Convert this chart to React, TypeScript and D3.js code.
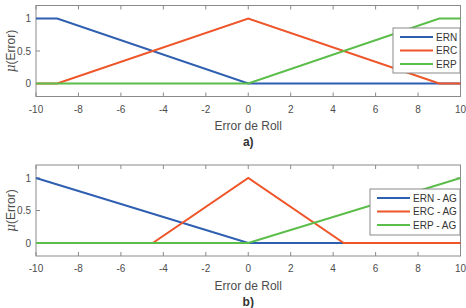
import * as d3 from 'd3';
import { useEffect, useRef } from 'react';

const xTicks = [-10, -8, -6, -4, -2, 0, 2, 4, 6, 8, 10];
const yTicks = [0, 0.5, 1];
const yTickLabels = ['0', '0.5', '1'];

// panel a) membership functions
const ernA: [number, number][] = [[-10, 1], [-9, 1], [0, 0], [10, 0]];
const ercA: [number, number][] = [[-10, 0], [-9, 0], [0, 1], [9, 0], [10, 0]];
const erpA: [number, number][] = [[-10, 0], [0, 0], [9, 1], [10, 1]];
const namesA = ['ERN', 'ERC', 'ERP'];

// panel b) tuned by AG
const ernB: [number, number][] = [[-10, 1], [0, 0], [10, 0]];
const ercB: [number, number][] = [[-10, 0], [-4.5, 0], [0, 1], [4.5, 0], [10, 0]];
const erpB: [number, number][] = [[-10, 0], [0, 0], [10, 1]];
const namesB = ['ERN - AG', 'ERC - AG', 'ERP - AG'];

const colors = ['#2f5fb0', '#ee5529', '#5bbd4a'];

export default function App() {
  const ref = useRef<SVGSVGElement>(null);

  useEffect(() => {
    const svg = d3.select(ref.current);
    svg.selectAll('*').remove();
    const font = 'Liberation Sans, Arial, sans-serif';

    const panels = [
      { top: 5.5, bottom: 96.5, series: [ernA, ercA, erpA], names: namesA, tag: 'a)', legend: { x: 393, y: 28, w: 67, h: 45, lx: 7, lw: 33 } },
      { top: 165, bottom: 256, series: [ernB, ercB, erpB], names: namesB, tag: 'b)', legend: { x: 370, y: 189, w: 90, h: 46, lx: 7, lw: 33 } },
    ];

    panels.forEach((p) => {
      const x = d3.scaleLinear().domain([-10, 10]).range([36, 460.5]);
      const y = d3.scaleLinear().domain([-0.2, 1.2]).range([p.bottom, p.top]);
      const g = svg.append('g');

      g.append('rect')
        .attr('x', 36).attr('y', p.top)
        .attr('width', 424.5).attr('height', p.bottom - p.top)
        .attr('fill', 'white').attr('stroke', '#8a8a8a').attr('stroke-width', 1);

      // ticks inside, on all sides
      xTicks.forEach((t) => {
        g.append('line').attr('x1', x(t)).attr('x2', x(t)).attr('y1', p.bottom).attr('y2', p.bottom - 4).attr('stroke', '#8a8a8a');
        g.append('line').attr('x1', x(t)).attr('x2', x(t)).attr('y1', p.top).attr('y2', p.top + 4).attr('stroke', '#8a8a8a');
        g.append('text').attr('x', x(t)).attr('y', p.bottom + 16)
          .attr('text-anchor', 'middle').attr('font-size', 10).attr('font-family', font).attr('fill', '#4d4d4d')
          .text(t);
      });
      yTicks.forEach((t, i) => {
        g.append('line').attr('x1', 36).attr('x2', 40).attr('y1', y(t)).attr('y2', y(t)).attr('stroke', '#8a8a8a');
        g.append('line').attr('x1', 460.5).attr('x2', 456.5).attr('y1', y(t)).attr('y2', y(t)).attr('stroke', '#8a8a8a');
        g.append('text').attr('x', 31).attr('y', y(t) + 3.5)
          .attr('text-anchor', 'end').attr('font-size', 10).attr('font-family', font).attr('fill', '#4d4d4d')
          .text(yTickLabels[i]);
      });

      const line = d3.line<[number, number]>().x((d) => x(d[0])).y((d) => y(d[1]));
      p.series.forEach((s, i) => {
        g.append('path').attr('d', line(s)).attr('fill', 'none')
          .attr('stroke', colors[i]).attr('stroke-width', 2);
      });

      // axis labels
      g.append('text').attr('x', x(0)).attr('y', p.bottom + 33.5)
        .attr('text-anchor', 'middle').attr('font-size', 12).attr('font-family', font).attr('fill', '#4d4d4d')
        .text('Error de Roll');
      g.append('text').attr('x', x(0)).attr('y', p.bottom + 49.5)
        .attr('text-anchor', 'middle').attr('font-size', 12).attr('font-weight', 'bold').attr('font-family', font).attr('fill', '#333')
        .text(p.tag);
      const yl = g.append('text')
        .attr('transform', `translate(15,${(y(0) + y(1)) / 2}) rotate(-90)`)
        .attr('text-anchor', 'middle').attr('font-size', 12).attr('font-family', font).attr('fill', '#4d4d4d');
      yl.append('tspan').attr('font-style', 'italic').attr('font-family', 'DejaVu Serif, serif').text('μ');
      yl.append('tspan').text('(Error)');

      // legend
      const L = p.legend;
      const lg = g.append('g').attr('transform', `translate(${L.x},${L.y})`);
      lg.append('rect').attr('width', L.w).attr('height', L.h).attr('fill', 'white').attr('stroke', '#8a8a8a');
      p.names.forEach((n, i) => {
        const yy = 9 + i * 13.5;
        lg.append('line').attr('x1', L.lx).attr('x2', L.lx + L.lw).attr('y1', yy).attr('y2', yy)
          .attr('stroke', colors[i]).attr('stroke-width', 2);
        lg.append('text').attr('x', L.lx + L.lw + 3).attr('y', yy + 3.5)
          .attr('font-size', 10).attr('font-family', font).attr('fill', '#333').text(n);
      });
    });
  }, []);

  return (
    <svg ref={ref} width={466} height={308}
      style={{ position: 'absolute', left: 0, top: 0, background: 'white' }} />
  );
}
